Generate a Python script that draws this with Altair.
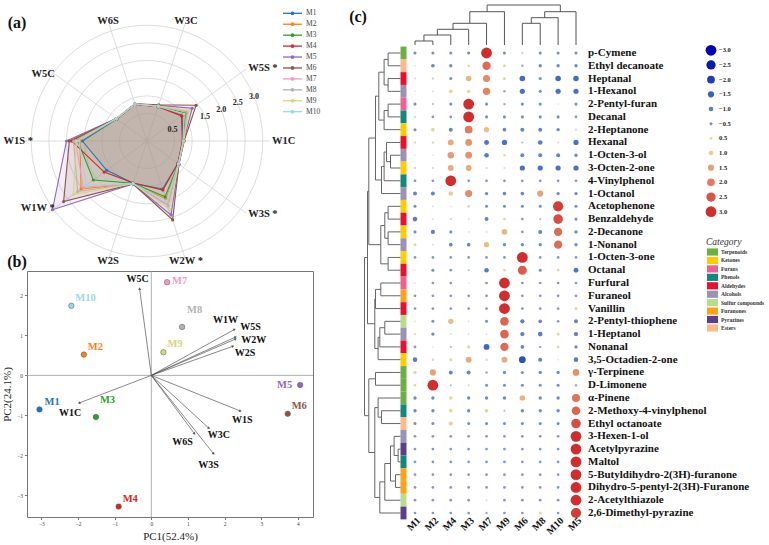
import math
import altair as alt
import pandas as pd

W, H = 769, 545
SERIF = "Liberation Serif"

# ====================== (a) E-nose radar data ======================
sensors = ["W1C", "W5S", "W3C", "W6S", "W5C", "W1S", "W1W", "W2S", "W2W", "W3S"]
sensor_star = [False, True, False, False, False, True, True, False, True, True]
samples = ["M1", "M2", "M3", "M4", "M5", "M6", "M7", "M8", "M9", "M10"]
sample_colors = ["#1f77b4", "#ff7f0e", "#2ca02c", "#d62728", "#9467bd",
                 "#8c564b", "#f29ac4", "#b3b3b3", "#d6d67a", "#98d8e8"]
radar_M1 = [0.74, 0.95, 0.74, 0.82, 0.78, 1.55, 1.13, 0.98, 1.15, 0.80]
radar_M2 = [0.78, 1.00, 0.75, 0.82, 0.79, 1.62, 2.03, 0.99, 1.45, 0.82]
radar_M3 = [0.75, 1.07, 0.75, 0.82, 0.78, 1.68, 1.60, 0.98, 1.38, 0.82]
radar_M4 = [0.72, 0.93, 0.74, 0.81, 0.78, 1.86, 1.22, 0.97, 1.18, 0.80]
radar_M5 = [0.76, 1.30, 0.78, 0.83, 0.80, 2.00, 3.03, 1.00, 1.92, 0.84]
radar_M6 = [0.77, 1.44, 0.80, 0.83, 0.80, 1.92, 2.64, 1.00, 2.07, 0.84]
radar_M7 = [0.75, 1.12, 0.76, 0.82, 0.79, 1.75, 1.95, 0.99, 1.60, 0.82]
radar_M8 = [0.75, 1.15, 0.76, 0.82, 0.79, 1.80, 2.15, 0.99, 1.65, 0.82]
radar_M9 = [0.76, 1.18, 0.76, 0.82, 0.79, 1.72, 2.30, 0.99, 1.75, 0.83]
radar_M10 = [0.74, 1.02, 0.75, 0.82, 0.80, 1.65, 1.85, 0.99, 1.50, 0.82]
radar_series = [radar_M1, radar_M2, radar_M3, radar_M4, radar_M5,
                radar_M6, radar_M7, radar_M8, radar_M9, radar_M10]
radar_rings = [0.5, 1.0, 1.5, 2.0, 2.5, 3.0]
radar_ring_ticks = [0.5, 1.5, 2.0, 2.5, 3.0]

# ====================== (b) PCA data ======================
pc1 = [-3.05, -1.84, -1.51, -0.89, 4.06, 3.72, 0.43, 0.84, 0.33, -2.18]
pc2 = [-0.85, 0.52, -1.04, -3.28, -0.24, -0.96, 2.33, 1.21, 0.58, 1.74]
loading_pc1 = [-1.97, 2.30, 1.57, 1.18, -0.32, 2.43, 2.27, 2.23, 2.30, 1.70]
loading_pc2 = [-0.69, 0.96, -1.32, -1.46, 2.17, -0.89, 1.15, 0.73, 0.91, -1.96]
pc1_ticks = [-3, -2, -1, 0, 1, 2, 3, 4]
pc2_ticks = [-3, -2, -1, 0, 1, 2]

# ====================== (c) bubble heat map data ======================
heat_columns = ["M1", "M2", "M4", "M3", "M7", "M9", "M6", "M8", "M10", "M5"]
compounds = ["p-Cymene", "Ethyl decanoate", "Heptanal", "1-Hexanol", "2-Pentyl-furan",
             "Decanal", "2-Heptanone", "Hexanal", "1-Octen-3-ol", "3-Octen-2-one",
             "4-Vinylphenol", "1-Octanol", "Acetophenone", "Benzaldehyde", "2-Decanone",
             "1-Nonanol", "1-Octen-3-one", "Octanal", "Furfural", "Furaneol", "Vanillin",
             "2-Pentyl-thiophene", "1-Heptanol", "Nonanal", "3,5-Octadien-2-one",
             "γ-Terpinene", "D-Limonene", "α-Pinene", "2-Methoxy-4-vinylphenol",
             "Ethyl octanoate", "3-Hexen-1-ol", "Acetylpyrazine", "Maltol",
             "5-Butyldihydro-2(3H)-furanone", "Dihydro-5-pentyl-2(3H)-Furanone",
             "2-Acetylthiazole", "2,6-Dimethyl-pyrazine"]
compound_category = ["Terpenoids", "Esters", "Aldehydes", "Alcohols", "Furans",
                     "Phenols", "Ketones", "Aldehydes", "Alcohols", "Ketones",
                     "Phenols", "Alcohols", "Ketones", "Aldehydes", "Ketones",
                     "Alcohols", "Ketones", "Aldehydes", "Furans", "Furanones", "Aldehydes",
                     "Sulfur compounds", "Alcohols", "Aldehydes", "Ketones",
                     "Terpenoids", "Terpenoids", "Terpenoids", "Phenols",
                     "Esters", "Alcohols", "Pyrazines", "Phenols",
                     "Furanones", "Furanones", "Sulfur compounds", "Pyrazines"]
category_names = ["Terpenoids", "Ketones", "Furans", "Phenols", "Aldehydes", "Alcohols",
                  "Sulfur compounds", "Furanones", "Pyrazines", "Esters"]
category_colors = ["#6cb043", "#ffcc00", "#ee6190", "#11887c", "#e8112d", "#9a93b6",
                   "#b6dc8c", "#ffa11a", "#5b3f8e", "#fcb98a"]
heat_values = [
    [-0.5, -0.5, -0.5, -0.5, 3.0, -0.5, 0.3, -0.5, -0.5, -0.5],
    [0.0, -0.7, -0.6, 0.4, 2.2, 0.5, -0.3, -0.6, -0.6, -0.6],
    [0.2, 0.3, -0.5, 1.3, 1.8, 0.5, -1.3, -0.5, -1.3, -1.3],
    [0.0, 0.1, 0.7, 0.6, 1.9, -0.3, -1.2, -0.5, -1.2, -1.2],
    [-0.5, -0.2, -0.5, 3.0, -0.5, -0.3, -0.5, -0.5, 0.0, -0.5],
    [0.2, -0.4, -0.4, 3.0, -0.5, -0.5, -0.5, -0.5, -0.5, -0.4],
    [-0.5, 0.7, -0.8, 2.0, 1.2, -0.7, -0.8, -0.8, -0.6, 0.2],
    [0.3, 0.3, 1.4, 1.7, -1.1, -1.2, -0.2, -1.0, 0.2, -1.2],
    [0.0, 0.0, 1.6, 1.7, -1.0, 0.3, -0.8, -0.8, -0.8, -0.6],
    [0.4, 0.2, 1.4, 1.4, 0.2, 0.2, -1.2, -1.2, -1.2, -1.2],
    [-0.4, -0.4, 3.0, -0.4, -0.4, -0.4, -0.4, -0.4, -0.4, -0.4],
    [-0.8, -0.8, 1.0, 1.8, -0.6, -0.7, -0.7, 1.5, -0.6, -0.6],
    [-0.5, 0.1, 0.1, 0.4, -0.5, -0.5, -0.5, -0.5, 2.8, -0.5],
    [-1.0, 0.1, 0.3, 0.1, -0.8, 0.4, -0.4, -0.2, 2.6, -0.5],
    [-0.5, -0.9, -0.5, 0.1, 0.1, 1.3, -0.4, -0.8, 2.2, -0.6],
    [0.5, 0.1, -0.7, -0.7, 1.2, -0.6, -0.6, -0.6, 2.2, -0.6],
    [-0.4, -0.4, -0.4, -0.4, -0.4, -0.4, 3.0, -0.4, -0.4, -0.4],
    [0.0, -0.5, -0.4, -0.2, -1.0, 0.4, 2.4, -0.5, 0.4, -1.1],
    [0.05, -0.4, -0.4, 0.0, -0.4, 3.0, -0.4, -0.4, -0.4, -0.4],
    [-0.4, -0.4, -0.4, -0.4, -0.4, 3.0, -0.4, -0.4, -0.4, -0.4],
    [-0.4, -0.4, -0.4, -0.4, -0.4, 3.0, -0.4, -0.4, -0.4, 0.5],
    [0.1, -0.5, 1.2, 0.1, -0.5, 2.3, -0.9, -0.7, -0.4, -0.8],
    [0.3, -0.6, 0.1, 0.1, 0.1, 2.3, -0.9, -1.0, 0.5, -0.9],
    [-0.4, 0.0, -0.2, 0.6, -1.4, 2.2, -0.7, -0.3, 0.4, -0.6],
    [-1.0, 0.3, 0.5, 1.4, 0.3, 1.4, -1.7, -0.8, 0.0, -1.0],
    [0.6, 1.5, -0.8, -0.8, -0.3, -0.6, -0.5, -0.6, -0.6, 1.7],
    [0.4, 3.0, -0.2, 0.1, -0.5, -0.5, -0.5, -0.5, -0.5, -0.3],
    [-0.6, -0.6, 0.6, -0.6, -0.6, -0.6, 1.3, -0.6, -0.6, 2.1],
    [-0.6, -0.6, 0.7, -0.6, 0.7, -0.2, -0.6, -0.6, -0.6, 2.3],
    [-0.5, -0.5, 0.9, -0.5, -0.5, -0.5, -0.5, -0.5, -0.5, 2.6],
    [-0.4, -0.4, -0.4, -0.4, -0.4, -0.4, -0.4, -0.4, -0.4, 3.0],
    [-0.4, -0.4, -0.4, -0.4, -0.4, -0.4, -0.4, -0.4, -0.4, 3.0],
    [-0.4, -0.4, -0.4, -0.4, -0.4, -0.4, -0.4, -0.4, -0.4, 3.0],
    [-0.4, -0.4, -0.4, -0.4, -0.4, -0.4, -0.4, -0.4, -0.4, 3.0],
    [-0.4, -0.4, -0.4, -0.4, -0.4, -0.4, -0.4, -0.4, -0.4, 3.0],
    [-0.4, -0.4, -0.4, -0.4, 0.2, -0.4, -0.4, -0.4, -0.4, 3.0],
    [-0.4, -0.4, -0.4, -0.4, -0.3, -0.4, -0.4, 0.5, -0.4, 2.8],
]
legend_values = [-3.0, -2.5, -2.0, -1.5, -1.0, -0.5, 0.5, 1.0, 1.5, 2.0, 2.5, 3.0]

# dendrograms: (left, right, merge height); leaves are display indices
column_tree = ((((((0, 1, 4.0), 2, 10.0), 3, 15.7), 4, 21.7), 5, 33.3),
               (((6, 7, 21.7), 8, 27.3), 9, 33.3), 40.0)
row_tree = (
    ((((((0, 1, 12.4), (2, 3, 12.4), 16.4), ((4, 5, 12.4), 6, 16.4), 21.7),
        (((((8, 9, 10.0), 7, 14.0), 10, 16.4), 11, 19.0)), 25.0),
       (((12, 13, 12.4), (14, 15, 12.4), 15.7), (16, 17, 12.4), 19.7), 31.7),
      (((18, 19, 19.7), 20, 25.0), ((((21, 22, 15.7), 23, 20.7), 24, 22.4)), 25.7), 33.0),
    ((25, 26, 25.0),
     ((27, (28, 29, 19.0), 22.4),
      ((((30, (31, 32, 2.4), 6.4), (33, 34, 5.0), 10.0), 35, 15.7), 36, 20.7), 25.7), 31.7),
    36.0)


def dendro(node):
    if isinstance(node, int):
        return float(node), 0.0, []
    a, b, h = node
    pa, ha, sa = dendro(a)
    pb, hb, sb = dendro(b)
    segs = sa + sb + [(pa, ha, pa, h), (pb, hb, pb, h), (pa, h, pb, h)]
    return (pa + pb) / 2.0, h, segs


layers = []

# ====================== radar panel ======================
R_OFF = 0.28      # radial offset of the polar axis
RK = 35.3         # px per unit
RCX, RCY = 147.0, 141.0
RMAX = 3.6
rx = alt.Scale(domain=[-RMAX, RMAX], range=[RCX - RMAX * RK, RCX + RMAX * RK], nice=False, zero=False)
ry = alt.Scale(domain=[-RMAX, RMAX], range=[RCY + RMAX * RK, RCY - RMAX * RK], nice=False, zero=False)
sample_scale = alt.Scale(domain=samples, range=sample_colors)

ring_df = pd.DataFrame({"ring": radar_rings})
layers.append(
    alt.Chart(ring_df)
    .transform_calculate(u=f"datum.ring + {R_OFF}", c="0")
    .mark_point(shape="circle", filled=False, color="#d4d4d4", strokeWidth=0.8, opacity=1)
    .encode(x=alt.X("c:Q", scale=rx, axis=None), y=alt.Y("c:Q", scale=ry, axis=None),
            size=alt.Size("u:Q", scale=alt.Scale(type="pow", exponent=2, domain=[0, RMAX],
                                                 range=[0, (2 * RMAX * RK) ** 2]),
                          legend=None))
)

spoke_df = pd.DataFrame({"sensor": sensors, "idx": list(range(10)), "star": sensor_star})
layers.append(
    alt.Chart(spoke_df)
    .transform_calculate(a="datum.idx*PI/5", c="0", ex="3.47*cos(datum.a)", ey="3.47*sin(datum.a)")
    .mark_rule(color="#d4d4d4", strokeWidth=0.8)
    .encode(x=alt.X("c:Q", scale=rx, axis=None), y=alt.Y("c:Q", scale=ry, axis=None),
            x2="ex:Q", y2="ey:Q")
)

radar_rows = []
for s, vals in zip(samples, radar_series):
    for k in range(11):
        i = k % 10
        radar_rows.append({"sample": s, "k": k, "idx": i, "value": vals[i]})
radar_df = pd.DataFrame(radar_rows)
radar_base = alt.Chart(radar_df).transform_calculate(
    a="datum.idx*PI/5", u=f"datum.value + {R_OFF}",
    px="datum.u*cos(datum.a)", py="datum.u*sin(datum.a)")
renc = dict(x=alt.X("px:Q", scale=rx, axis=None), y=alt.Y("py:Q", scale=ry, axis=None),
            color=alt.Color("sample:N", scale=sample_scale, legend=None),
            order=alt.Order("k:Q"))
layers.append(radar_base.mark_line(filled=True, fillOpacity=0.11, strokeWidth=0).encode(**renc))
layers.append(radar_base.mark_line(strokeWidth=1.1).encode(**renc))
layers.append(radar_base.transform_filter("datum.k < 10")
              .mark_point(filled=True, size=10, opacity=1).encode(**renc))

lab_base = alt.Chart(spoke_df).transform_calculate(
    a="datum.idx*PI/5", lab="datum.sensor + (datum.star ? ' *' : '')")
for cond, al, rpx in [("cos(datum.a) > 0.5", "left", 125.0),
                      ("cos(datum.a) < -0.5", "right", 114.0),
                      ("abs(cos(datum.a)) <= 0.5", "center", 126.0)]:
    lr = rpx / RK
    layers.append(
        lab_base.transform_filter(cond)
        .transform_calculate(lx=f"{lr}*cos(datum.a)", ly=f"{lr}*sin(datum.a)")
        .mark_text(align=al, baseline="middle", font=SERIF, fontWeight="bold", fontSize=10.5)
        .encode(x=alt.X("lx:Q", scale=rx, axis=None), y=alt.Y("ly:Q", scale=ry, axis=None),
                text="lab:N", color=alt.value("#222222"))
    )

rt_df = pd.DataFrame({"ring": radar_ring_ticks})
layers.append(
    alt.Chart(rt_df)
    .transform_calculate(u=f"datum.ring + {R_OFF}", lx="datum.u*cos(PI/8)",
                         ly="datum.u*sin(PI/8)", t="format(datum.ring, '.1f')")
    .mark_text(align="center", baseline="middle", font=SERIF, fontWeight="bold", fontSize=8)
    .encode(x=alt.X("lx:Q", scale=rx, axis=None), y=alt.Y("ly:Q", scale=ry, axis=None),
            text="t:N", color=alt.value("#222222"))
)

leg_df = pd.DataFrame({"sample": samples})
leg_y = alt.Y("sample:N", scale=alt.Scale(type="point", domain=samples, range=[13.3, 111.7],
                                          padding=0), axis=None)
layers.append(alt.Chart(leg_df).mark_rule(strokeWidth=1.3).encode(
    x=alt.value(283), x2=alt.value(302), y=leg_y,
    color=alt.Color("sample:N", scale=sample_scale, legend=None)))
layers.append(alt.Chart(leg_df).mark_point(filled=True, size=14, opacity=1).encode(
    x=alt.value(292.5), y=leg_y, color=alt.Color("sample:N", scale=sample_scale, legend=None)))
layers.append(alt.Chart(leg_df).mark_text(align="left", baseline="middle", font=SERIF,
                                          fontSize=7.5).encode(
    x=alt.value(306), y=leg_y, text="sample:N", color=alt.value("#444444")))

# ====================== PCA panel ======================
PXD = [-3.39, 4.41]
PYD = [-3.54, 2.61]
PXR = [27, 313]
PYR = [517, 271]
PX = alt.Scale(domain=PXD, range=PXR, nice=False, zero=False)
PY = alt.Scale(domain=PYD, range=PYR, nice=False, zero=False)
SX = (PXR[1] - PXR[0]) / (PXD[1] - PXD[0])
SY = (PYR[0] - PYR[1]) / (PYD[1] - PYD[0])

pca_df = pd.DataFrame({"sample": samples, "pc1": pc1, "pc2": pc2})
# label offsets in pixels (dx right, dy down)
sample_label_offset = {"M1": (5, -7), "M2": (4, -8), "M3": (4, -17), "M4": (4, -8),
                       "M5": (-8, 0), "M6": (4, -8), "M7": (5, -1), "M8": (5, -17),
                       "M9": (4, -8), "M10": (4, -8)}
pca_df["lx"] = [x + sample_label_offset[s][0] / SX for s, x in zip(samples, pc1)]
pca_df["ly"] = [y - sample_label_offset[s][1] / SY for s, y in zip(samples, pc2)]

zl_df = pd.DataFrame({"z": [0.0], "xlo": [PXD[0]], "xhi": [PXD[1]],
                      "ylo": [PYD[0]], "yhi": [PYD[1]]})
layers.append(alt.Chart(zl_df).mark_rule(color="#9a9a9a", strokeWidth=0.8).encode(
    x=alt.X("z:Q", scale=PX, axis=None), y=alt.Y("ylo:Q", scale=PY, axis=None), y2="yhi:Q"))
layers.append(alt.Chart(zl_df).mark_rule(color="#9a9a9a", strokeWidth=0.8).encode(
    y=alt.Y("z:Q", scale=PY, axis=None), x=alt.X("xlo:Q", scale=PX, axis=None), x2="xhi:Q"))

load_df = pd.DataFrame({"name": sensors, "lx": loading_pc1, "ly": loading_pc2})
loading_label_offset = {"W1C": (-9, 10), "W5S": (15, -10), "W3C": (10, 7), "W6S": (-12, 8),
                        "W5C": (-2, -10), "W1S": (2, 9), "W1W": (-9, -9), "W2S": (12, 7),
                        "W2W": (18, 1), "W3S": (-5, 11)}
load_df["tx"] = [x + loading_label_offset[n][0] / SX for n, x in zip(sensors, loading_pc1)]
load_df["ty"] = [y - loading_label_offset[n][1] / SY for n, y in zip(sensors, loading_pc2)]
layers.append(
    alt.Chart(load_df).transform_calculate(o="0")
    .mark_rule(color="#555", strokeWidth=0.7)
    .encode(x=alt.X("o:Q", scale=PX, axis=None), y=alt.Y("o:Q", scale=PY, axis=None),
            x2="lx:Q", y2="ly:Q")
)
layers.append(
    alt.Chart(load_df)
    .transform_calculate(ang=f"(atan2(datum.lx*{SX}, datum.ly*{SY})*180/PI + 360) % 360")
    .mark_point(shape="triangle-up", filled=True, size=9, color="#555", opacity=1)
    .encode(x=alt.X("lx:Q", scale=PX, axis=None), y=alt.Y("ly:Q", scale=PY, axis=None),
            angle=alt.Angle("ang:Q", scale=None))
)
layers.append(
    alt.Chart(load_df).mark_text(align="center", baseline="middle", font=SERIF,
                                 fontWeight="bold", fontSize=10, color="#111")
    .encode(x=alt.X("tx:Q", scale=PX, axis=None), y=alt.Y("ty:Q", scale=PY, axis=None),
            text="name:N")
)

axis_common = dict(labelFont=SERIF, labelFontSize=5.5, labelColor="#444", tickSize=2.5,
                   tickColor="#777", domainColor="#777", grid=False, titleFont=SERIF,
                   titleFontSize=11, titleFontWeight="normal", titleColor="#222",
                   labelPadding=2, format="d")
layers.append(
    alt.Chart(pca_df).mark_circle(size=30, opacity=1, stroke="#555", strokeWidth=0.5)
    .encode(
        x=alt.X("pc1:Q", scale=PX, axis=alt.Axis(orient="bottom", offset=-(H - PYR[0]),
                                                  values=pc1_ticks, title="PC1(52.4%)",
                                                  titlePadding=3, **axis_common)),
        y=alt.Y("pc2:Q", scale=PY, axis=alt.Axis(orient="left", offset=-PXR[0],
                                                  values=pc2_ticks, title="PC2(24.1%)",
                                                  titlePadding=4, **axis_common)),
        color=alt.Color("sample:N", scale=sample_scale, legend=None))
)
layers.append(
    alt.Chart(pca_df).mark_point(opacity=0)
    .encode(
        x=alt.X("pc1:Q", scale=PX, axis=alt.Axis(orient="top", offset=-PYR[1], labels=False,
                                                  ticks=False, title=None, grid=False,
                                                  domainColor="#777")),
        y=alt.Y("pc2:Q", scale=PY, axis=alt.Axis(orient="right", offset=-(W - PXR[1]),
                                                  labels=False, ticks=False, title=None,
                                                  grid=False, domainColor="#777")))
)
layers.append(
    alt.Chart(pca_df).transform_filter("datum.sample != 'M5'")
    .mark_text(align="left", baseline="middle", font=SERIF, fontWeight="bold", fontSize=10.5)
    .encode(x=alt.X("lx:Q", scale=PX, axis=None), y=alt.Y("ly:Q", scale=PY, axis=None),
            text="sample:N", color=alt.Color("sample:N", scale=sample_scale, legend=None))
)
layers.append(
    alt.Chart(pca_df).transform_filter("datum.sample == 'M5'")
    .mark_text(align="right", baseline="middle", font=SERIF, fontWeight="bold", fontSize=10.5)
    .encode(x=alt.X("lx:Q", scale=PX, axis=None), y=alt.Y("ly:Q", scale=PY, axis=None),
            text="sample:N", color=alt.Color("sample:N", scale=sample_scale, legend=None))
)

# ====================== bubble heat map panel ======================
CX0, CX1 = 415.0, 576.0
RY0, RY1 = 53.0, 513.0
half = (RY1 - RY0) / (len(compounds) - 1) / 2
col_scale = alt.Scale(type="point", domain=heat_columns, range=[CX0, CX1], padding=0)
row_scale = alt.Scale(type="point", domain=compounds, range=[RY0, RY1], padding=0)
dot_domain = [-3, -2.5, -2, -1.5, -1, -0.45, 0, 0.45, 1, 1.5, 2, 2.5, 3]
dot_range = ["#0000b4", "#0718b2", "#1d3dbd", "#3560c0", "#5a7cc2", "#7891c9", "#d8dbe4",
             "#dddca4", "#efcc8e", "#e9a274", "#e27b5e", "#d95444", "#d12d2d"]
dot_color = alt.Scale(domain=dot_domain, range=dot_range, interpolate="rgb")
dot_size = alt.Scale(type="pow", exponent=2, domain=[0, 11], range=[0, 121])
cat_scale = alt.Scale(domain=category_names, range=category_colors)

heat_rows = []
for ci, comp in enumerate(compounds):
    for ji, col in enumerate(heat_columns):
        heat_rows.append({"compound": comp, "col": col, "value": heat_values[ci][ji]})
heat_df = pd.DataFrame(heat_rows)
layers.append(
    alt.Chart(heat_df).transform_calculate(d="1.5 + 3.1*abs(datum.value)")
    .mark_circle(opacity=1)
    .encode(x=alt.X("col:N", scale=col_scale, axis=None),
            y=alt.Y("compound:N", scale=row_scale, axis=None),
            size=alt.Size("d:Q", scale=dot_size, legend=None),
            color=alt.Color("value:Q", scale=dot_color, legend=None))
)

comp_df = pd.DataFrame({"compound": compounds, "category": compound_category})
layers.append(
    alt.Chart(comp_df).mark_rect()
    .encode(x=alt.value(400.5), x2=alt.value(406.5),
            y=alt.Y("compound:N", scale=alt.Scale(type="band", domain=compounds,
                                                  range=[RY0 - half, RY1 + half],
                                                  paddingInner=0, paddingOuter=0), axis=None),
            color=alt.Color("category:N", scale=cat_scale, legend=None))
)
layers.append(
    alt.Chart(comp_df).mark_text(align="left", baseline="middle", font=SERIF,
                                 fontWeight="bold", fontSize=11, color="#111")
    .encode(x=alt.value(588), y=alt.Y("compound:N", scale=row_scale, axis=None),
            text="compound:N")
)
colname_df = pd.DataFrame({"col": heat_columns})
layers.append(
    alt.Chart(colname_df).mark_text(align="right", baseline="middle", angle=315, font=SERIF,
                                    fontWeight="bold", fontSize=10, color="#111")
    .encode(x=alt.X("col:N", scale=alt.Scale(type="point", domain=heat_columns,
                                             range=[CX0 + 4, CX1 + 4], padding=0), axis=None),
            y=alt.value(519), text="col:N")
)

_, _, col_segs = dendro(column_tree)
cseg_df = pd.DataFrame(col_segs, columns=["p1", "h1", "p2", "h2"])
layers.append(
    alt.Chart(cseg_df).mark_rule(color="#555", strokeWidth=1)
    .encode(x=alt.X("p1:Q", scale=alt.Scale(domain=[0, 9], range=[CX0, CX1], nice=False,
                                            zero=False), axis=None),
            x2="p2:Q",
            y=alt.Y("h1:Q", scale=alt.Scale(domain=[0, 40], range=[45, 5], nice=False),
                    axis=None),
            y2="h2:Q")
)
_, _, row_segs = dendro(row_tree)
rseg_df = pd.DataFrame(row_segs, columns=["p1", "h1", "p2", "h2"])
layers.append(
    alt.Chart(rseg_df).mark_rule(color="#666", strokeWidth=1)
    .encode(y=alt.Y("p1:Q", scale=alt.Scale(domain=[0, len(compounds) - 1], range=[RY0, RY1],
                                            nice=False, zero=False), axis=None),
            y2="p2:Q",
            x=alt.X("h1:Q", scale=alt.Scale(domain=[0, 40], range=[400.5, 360.5], nice=False),
                    axis=None),
            x2="h2:Q")
)

# size / colour legend
lv_df = pd.DataFrame({"v": legend_values,
                      "t": [("−" if v < 0 else "") + f"{abs(v):.1f}" for v in legend_values]})
lv_y = alt.Y("t:N", scale=alt.Scale(type="point", domain=list(lv_df["t"]), range=[50.3, 211.7],
                                    padding=0), axis=None)
layers.append(
    alt.Chart(lv_df).transform_calculate(d="1.5 + 3.1*abs(datum.v)")
    .mark_circle(opacity=1)
    .encode(x=alt.value(711), y=lv_y, size=alt.Size("d:Q", scale=dot_size, legend=None),
            color=alt.Color("v:Q", scale=dot_color, legend=None))
)
layers.append(
    alt.Chart(lv_df).mark_text(align="left", baseline="middle", font=SERIF, fontWeight="bold",
                               fontSize=6.5, color="#222")
    .encode(x=alt.value(719), y=lv_y, text="t:N")
)

# category legend
cat_df = pd.DataFrame({"category": category_names})
cat_y = alt.Y("category:N", scale=alt.Scale(type="band", domain=category_names,
                                            range=[248, 332], paddingInner=0.15,
                                            paddingOuter=0.05), axis=None)
layers.append(
    alt.Chart(cat_df).mark_rect()
    .encode(x=alt.value(707), x2=alt.value(718), y=cat_y,
            color=alt.Color("category:N", scale=cat_scale, legend=None))
)
layers.append(
    alt.Chart(cat_df).mark_text(align="left", baseline="middle", font=SERIF, fontWeight="bold",
                                fontSize=5.5, color="#333")
    .encode(x=alt.value(721), y=cat_y, text="category:N")
)
title_df = pd.DataFrame({"t": ["Category"]})
layers.append(
    alt.Chart(title_df).mark_text(align="left", baseline="middle", font=SERIF,
                                  fontStyle="italic", fontSize=9.5, color="#333")
    .encode(x=alt.value(706), y=alt.value(242), text="t:N")
)

# panel tags
for tag, px, py in [("(a)", 17, 23), ("(b)", 17, 262), ("(c)", 358, 17)]:
    layers.append(
        alt.Chart(pd.DataFrame({"t": [tag]}))
        .mark_text(align="center", baseline="middle", font=SERIF, fontWeight="bold",
                   fontSize=16, color="#111")
        .encode(x=alt.value(px), y=alt.value(py), text="t:N")
    )

chart = (
    alt.layer(*layers)
    .resolve_scale(x="independent", y="independent", color="independent",
                   size="independent")
    .properties(width=W, height=H, padding=0, autosize=alt.AutoSizeParams(type="none"))
    .configure_view(stroke=None)
)

chart.save("out.html", embed_options={"renderer": "svg", "actions": False})
